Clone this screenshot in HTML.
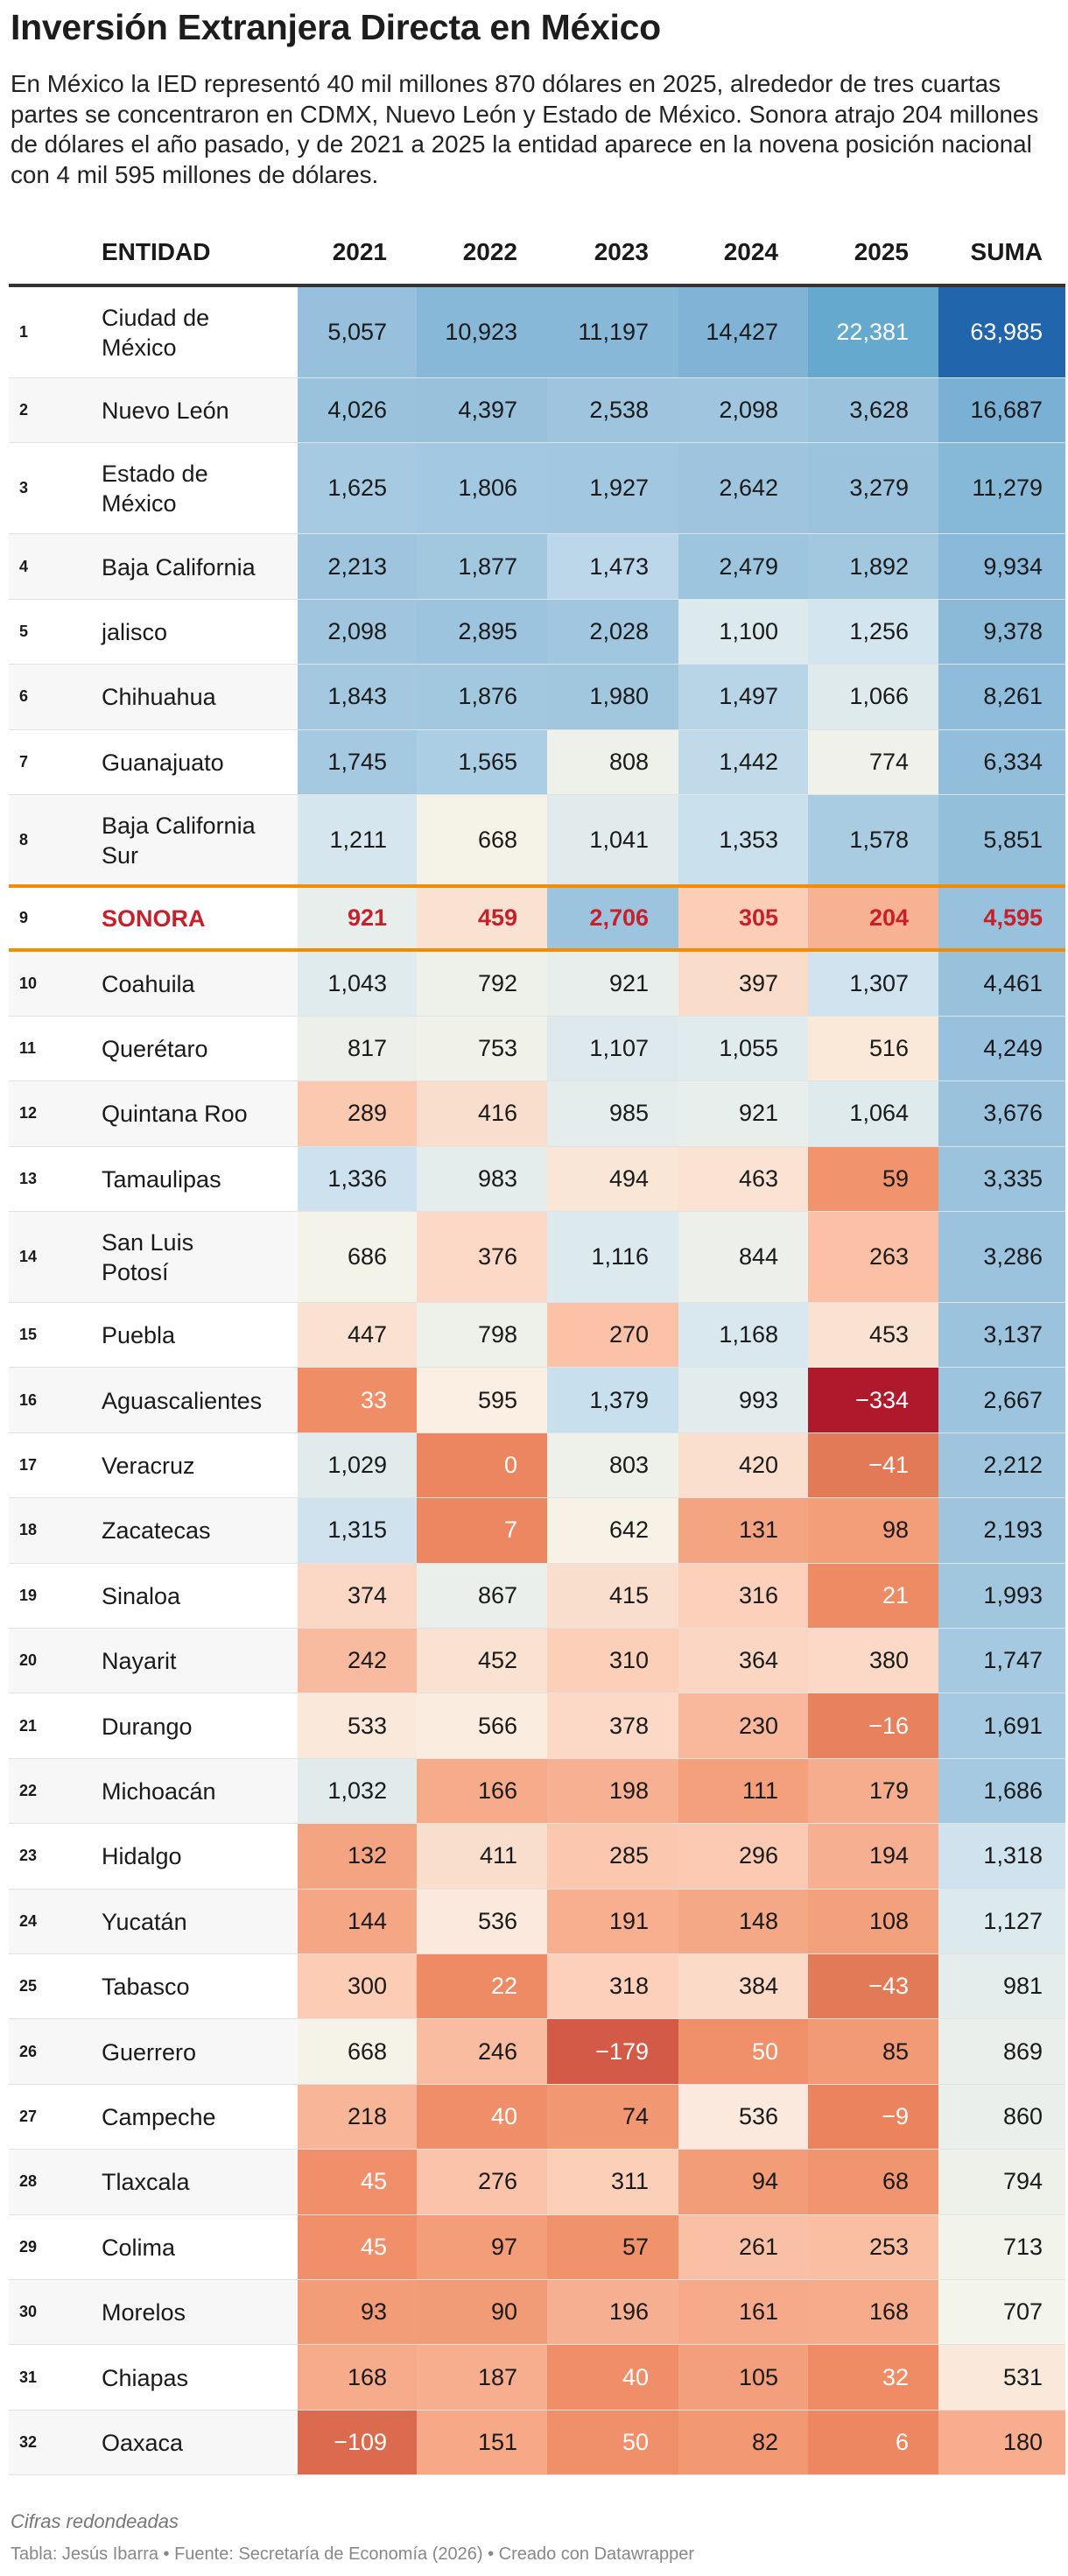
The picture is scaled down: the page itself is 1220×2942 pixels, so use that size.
<!DOCTYPE html>
<html><head><meta charset="utf-8">
<style>
body{margin:0;background:#fff;font-family:"Liberation Sans",sans-serif;color:#1a1a1a;}
#root{position:relative;width:1220px;height:2942px;overflow:hidden;}
.abs{position:absolute;}
h1{position:absolute;left:12px;top:8px;margin:0;font-size:41px;font-weight:bold;letter-spacing:-0.3px;color:#1d1d1d;}
.desc{position:absolute;left:12px;top:79px;font-size:27.8px;line-height:34.5px;color:#222;white-space:nowrap;}
.hd{position:absolute;top:270px;font-size:28px;font-weight:bold;line-height:36px;}
.row{position:absolute;left:10px;width:1207px;border-bottom:1px solid #e2e2e2;box-sizing:border-box;}
.rank{position:absolute;left:12px;font-size:18px;font-weight:bold;}
.name{position:absolute;left:106px;font-size:27px;line-height:34px;}
.cell{position:absolute;top:0;height:100%;box-sizing:border-box;display:flex;align-items:center;justify-content:flex-end;font-size:27px;}
.foot1{position:absolute;left:12px;top:2867px;font-size:22px;font-style:italic;color:#777;}
.foot2{position:absolute;left:12px;top:2906px;font-size:20px;color:#888;}
</style></head>
<body>
<div id="root">
<h1>Inversión Extranjera Directa en México</h1>
<div class="desc">En México la IED representó 40 mil millones 870 dólares en 2025, alrededor de tres cuartas<br>partes se concentraron en CDMX, Nuevo León y Estado de México. Sonora atrajo 204 millones<br>de dólares el año pasado, y de 2021 a 2025 la entidad aparece en la novena posición nacional<br>con 4 mil 595 millones de dólares.</div>
<div class="hd" style="left:116px">ENTIDAD</div>
<div id="headers"></div>
<div class="abs" style="left:10px;top:324px;width:1207px;height:4px;background:#333"></div>
<div id="table"></div>
<div class="foot1">Cifras redondeadas</div>
<div class="foot2">Tabla: Jesús Ibarra • Fuente: Secretaría de Economía (2026) • Creado con Datawrapper</div>
</div>
<script>
const columns = ["2021","2022","2023","2024","2025","SUMA"];
const entities = ["Ciudad de México","Nuevo León","Estado de México","Baja California","jalisco","Chihuahua","Guanajuato","Baja California Sur","SONORA","Coahuila","Querétaro","Quintana Roo","Tamaulipas","San Luis Potosí","Puebla","Aguascalientes","Veracruz","Zacatecas","Sinaloa","Nayarit","Durango","Michoacán","Hidalgo","Yucatán","Tabasco","Guerrero","Campeche","Tlaxcala","Colima","Morelos","Chiapas","Oaxaca"];
const v2021 = [5057,4026,1625,2213,2098,1843,1745,1211,921,1043,817,289,1336,686,447,33,1029,1315,374,242,533,1032,132,144,300,668,218,45,45,93,168,-109];
const v2022 = [10923,4397,1806,1877,2895,1876,1565,668,459,792,753,416,983,376,798,595,0,7,867,452,566,166,411,536,22,246,40,276,97,90,187,151];
const v2023 = [11197,2538,1927,1473,2028,1980,808,1041,2706,921,1107,985,494,1116,270,1379,803,642,415,310,378,198,285,191,318,-179,74,311,57,196,40,50];
const v2024 = [14427,2098,2642,2479,1100,1497,1442,1353,305,397,1055,921,463,844,1168,993,420,131,316,364,230,111,296,148,384,50,536,94,261,161,105,82];
const v2025 = [22381,3628,3279,1892,1256,1066,774,1578,204,1307,516,1064,59,263,453,-334,-41,98,21,380,-16,179,194,108,-43,85,-9,68,253,168,32,6];
const vSuma = [63985,16687,11279,9934,9378,8261,6334,5851,4595,4461,4249,3676,3335,3286,3137,2667,2212,2193,1993,1747,1691,1686,1318,1127,981,869,860,794,713,707,531,180];
const series = [v2021,v2022,v2023,v2024,v2025,vSuma];
const twoLine = {"Ciudad de México":"Ciudad de<br>México","Estado de México":"Estado de<br>México","Baja California Sur":"Baja California<br>Sur","San Luis Potosí":"San Luis<br>Potosí"};

const colL=[340,476,625,775,923,1072,1217];
const stops=[[-334,"#b0192c"],[-179,"#d35a46"],[-41,"#e27a58"],[0,"#ec8660"],[50,"#f0906a"],[100,"#f39e7a"],[160,"#f6aa89"],[200,"#f7b092"],[270,"#fbc2a8"],[311,"#fccfb9"],[420,"#fadfce"],[600,"#faefe3"],[700,"#f3f4ea"],[800,"#eef0ea"],[1000,"#e3ecec"],[1170,"#d9e8ee"],[1320,"#cfe2ee"],[1400,"#c6deec"],[1500,"#b8d5e8"],[1600,"#a5cae2"],[2200,"#9fc5de"],[5000,"#96c0dc"],[11000,"#87b8d8"],[14400,"#80b3d6"],[22400,"#66a9cf"],[64000,"#2166ac"]];
function hx(c){return [1,3,5].map(i=>parseInt(c.substr(i,2),16));}
function color(v){
  if(v<=stops[0][0])return stops[0][1];
  for(let i=1;i<stops.length;i++){
    if(v<=stops[i][0]){const a=stops[i-1],b=stops[i];const t=(v-a[0])/(b[0]-a[0]);
      const ca=hx(a[1]),cb=hx(b[1]);return "rgb("+ca.map((x,k)=>Math.round(x+(cb[k]-x)*t)).join(",")+")";}
  }
  return stops[stops.length-1][1];
}
function fmt(v){const s=Math.abs(v).toString().replace(/\B(?=(\d{3})+(?!\d))/g,",");return (v<0?"−":"")+s;}

const hdr=document.getElementById("headers");
columns.forEach((c,j)=>{
  const d=document.createElement("div");
  d.className="hd";
  d.style.left=colL[j]+"px";d.style.width=(colL[j+1]-colL[j]-(j==5?26:34))+"px";d.style.textAlign="right";
  d.textContent=c;
  
  
  hdr.appendChild(d);
});

const tbl=document.getElementById("table");
let y=328;
entities.forEach((e,i)=>{
  const h=twoLine[e]?104:74.4;
  const r=document.createElement("div");
  r.className="row";
  r.style.top=y+"px";r.style.height=h+"px";
  r.style.background=(i%2==1)?"#f7f7f7":"#fff";
  
  
  const son=e==="SONORA";
  const rk=document.createElement("div");rk.className="rank";rk.textContent=i+1;
  rk.style.top=(h/2-11)+"px";
  
  
  r.appendChild(rk);
  const nm=document.createElement("div");nm.className="name";nm.innerHTML=twoLine[e]||e;
  nm.style.top=(h/2-(twoLine[e]?34:17))+"px";
  if(son){nm.style.color="#c8202a";nm.style.fontWeight="bold";}
  
  
  r.appendChild(nm);
  series.forEach((s,j)=>{
    const v=s[i];
    const c=document.createElement("div");c.className="cell";
    c.style.left=(colL[j]-10)+"px";c.style.width=(colL[j+1]-colL[j])+"px";
    c.style.paddingRight=(j==5?26:34)+"px";
    c.style.background=color(v);
    c.style.color=son?"#c8202a":((v<=50||v>20000)?"#fff":"#1a1a1a");
    if(son)c.style.fontWeight="bold";
    c.textContent=fmt(v);
    
    
    r.appendChild(c);
  });
  tbl.appendChild(r);
  if(son){
    [y-2,y+h-3].forEach(ly=>{
      const l=document.createElement("div");l.className="abs";
      l.style.left="10px";l.style.top=ly+"px";l.style.width="1207px";l.style.height="4px";l.style.background="#f28c00";l.style.zIndex=5;
      
      
      tbl.appendChild(l);
    });
  }
  y+=h;
});
</script>
</body></html>
